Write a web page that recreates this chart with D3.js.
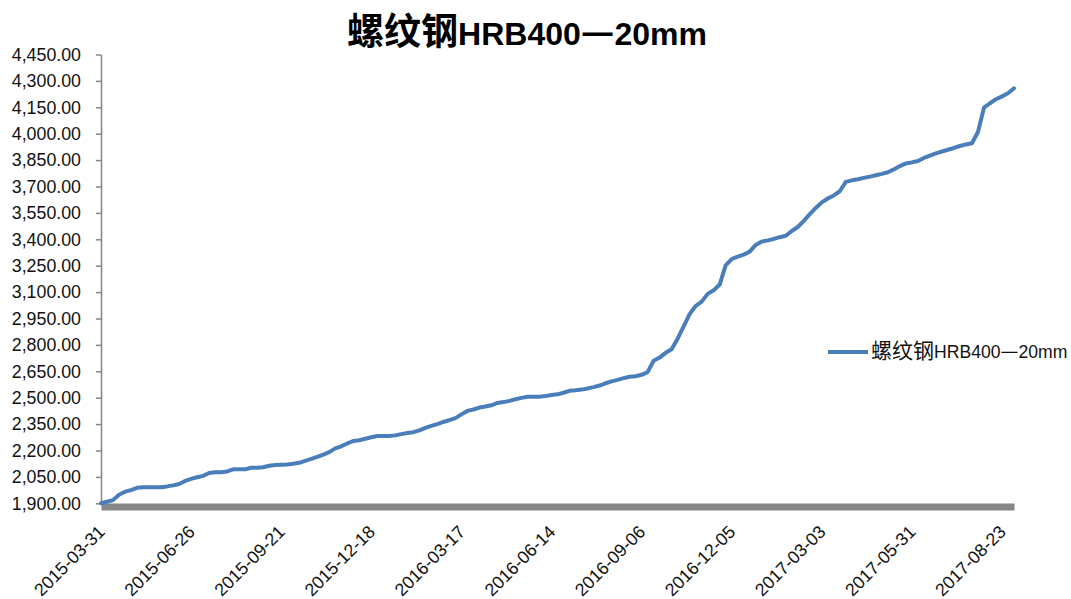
<!DOCTYPE html>
<html>
<head>
<meta charset="utf-8">
<script src="https://cdn.jsdelivr.net/npm/d3@7/dist/d3.min.js"></script>
<style>
  html, body { margin: 0; padding: 0; background: #fff; }
  svg { display: block; }
</style>
</head>
<body>
<svg id="chart" width="1071" height="599"></svg>
<script>
// ---- data ----
const seriesName = "螺纹钢HRB400—20mm";
const tickLabels = ["2015-03-31","2015-06-26","2015-09-21","2015-12-18","2016-03-17",
  "2016-06-14","2016-09-06","2016-12-05","2017-03-03","2017-05-31","2017-08-23"];
const pointsPerLabel = 15;
const yTicks = [1900,2050,2200,2350,2500,2650,2800,2950,3100,3250,3400,3550,3700,3850,4000,4150,4300,4450];
const values = [
  1900,1909,1918,1949,1966,1975,1988,1991,1991,1991,
  1991,1996,2002,2010,2027,2039,2048,2056,2072,2076,
  2076,2081,2093,2093,2093,2102,2102,2105,2113,2117,
  2119,2121,2125,2130,2141,2152,2164,2177,2191,2212,
  2224,2240,2254,2258,2267,2275,2282,2282,2282,2286,
  2293,2299,2304,2314,2329,2340,2350,2362,2373,2384,
  2405,2425,2433,2444,2450,2457,2470,2475,2482,2491,
  2499,2505,2506,2506,2509,2515,2519,2528,2539,2542,
  2546,2552,2560,2569,2582,2593,2601,2611,2619,2622,
  2630,2645,2710,2728,2755,2775,2835,2905,2975,3021,
  3046,3090,3110,3143,3252,3288,3302,3313,3330,3368,
  3387,3394,3402,3412,3420,3447,3470,3505,3543,3578,
  3610,3632,3649,3673,3726,3735,3741,3749,3756,3764,
  3772,3781,3797,3816,3831,3837,3845,3862,3875,3888,
  3899,3909,3919,3930,3939,3946,4010,4148,4173,4196,
  4212,4230,4258
];

// ---- layout ----
const svg = d3.select("#chart");
const plot = { left: 101, right: 1014, top: 54.5, bottom: 503.3 };

const x = d3.scaleLinear().domain([0, values.length - 1]).range([plot.left, plot.right]);
const y = d3.scaleLinear().domain([1900, 4450]).range([plot.bottom, plot.top]);

const labelFont = "'Liberation Sans', Arial, sans-serif";
const cjkFont = "'Noto Sans CJK SC', 'Noto Sans', sans-serif";
const textColor = "#111";

// Title
const title = svg.append("text")
  .attr("x", 527).attr("y", 45)
  .attr("text-anchor", "middle")
  .attr("font-weight", "bold")
  .attr("fill", "#000");
title.append("tspan").attr("font-family", cjkFont).attr("font-size", 37).text("螺纹钢");
title.append("tspan").attr("font-family", labelFont).attr("font-size", 32).text("HRB400");
title.append("tspan").attr("font-family", cjkFont).attr("font-size", 37).text("—");
title.append("tspan").attr("font-family", labelFont).attr("font-size", 32).text("20mm");

// Y axis
const yAxis = svg.append("g")
  .attr("transform", `translate(${plot.left},0)`)
  .call(d3.axisLeft(y).tickValues(yTicks).tickSize(5).tickSizeOuter(0).tickPadding(15)
    .tickFormat(d3.format(",.2f")));
yAxis.select(".domain").attr("stroke", "#868686").attr("stroke-width", 1.5);
yAxis.selectAll(".tick line").attr("stroke", "#868686").attr("stroke-width", 1.5);
yAxis.selectAll(".tick text")
  .attr("font-family", labelFont).attr("font-size", 17.8).attr("fill", textColor);

// X axis (thick gray band)
const tickIdx = tickLabels.map((d, i) => i * pointsPerLabel);
const xAxis = svg.append("g")
  .attr("transform", `translate(0,${plot.bottom + 3.2})`)
  .call(d3.axisBottom(x).tickValues(tickIdx).tickSize(0).tickSizeOuter(0)
    .tickFormat((d, i) => tickLabels[i]));
xAxis.select(".domain").attr("stroke", "#878787").attr("stroke-width", 7);
xAxis.selectAll(".tick text")
  .attr("font-family", labelFont).attr("font-size", 17.8).attr("fill", textColor)
  .attr("text-anchor", "end")
  .attr("x", 0).attr("y", 0).attr("dy", "0.35em")
  .attr("transform", "translate(0,22) rotate(-45)");

// Line
const line = d3.line().x((d, i) => x(i)).y(d => y(d));
svg.append("path")
  .datum(values)
  .attr("d", line)
  .attr("fill", "none")
  .attr("stroke", "#4a7ebb")
  .attr("stroke-width", 4)
  .attr("stroke-linejoin", "round")
  .attr("stroke-linecap", "round");

// Legend
const legend = svg.append("g").attr("transform", "translate(828,352)");
legend.append("line").attr("x1", 0).attr("x2", 40).attr("y1", 0).attr("y2", 0)
  .attr("stroke", "#4a7ebb").attr("stroke-width", 4);
const lt = legend.append("text").attr("x", 43).attr("y", 6).attr("fill", textColor);
lt.append("tspan").attr("font-family", cjkFont).attr("font-size", 21).text("螺纹钢");
lt.append("tspan").attr("font-family", labelFont).attr("font-size", 17.6).text("HRB400");
lt.append("tspan").attr("font-family", cjkFont).attr("font-size", 20).text("—");
lt.append("tspan").attr("font-family", labelFont).attr("font-size", 17.6).text("20mm");
</script>
</body>
</html>
